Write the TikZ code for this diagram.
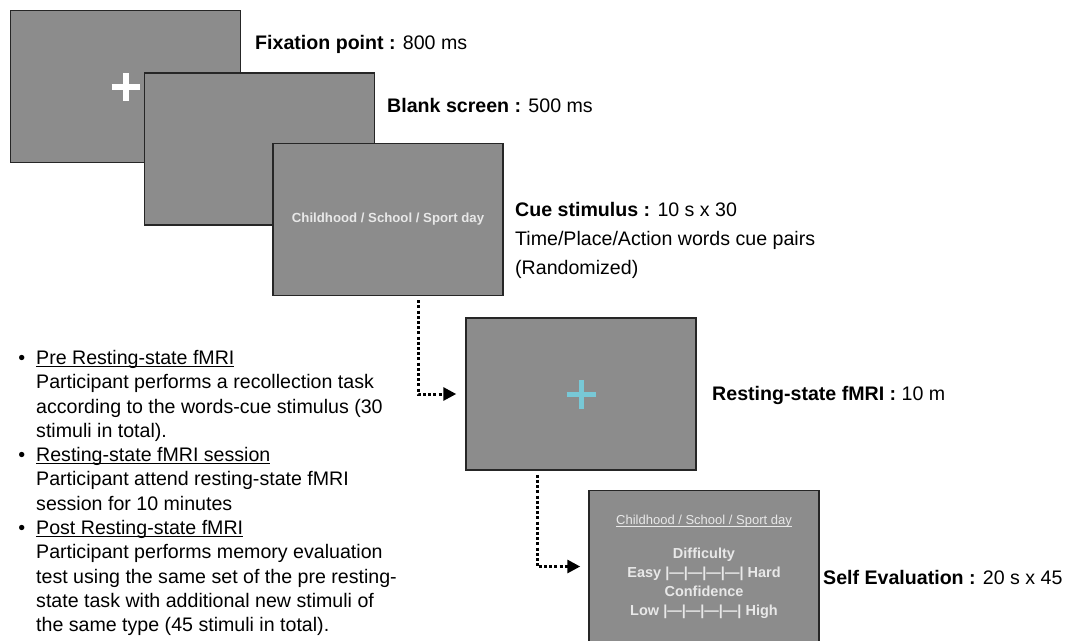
\documentclass[tikz,border=0pt]{standalone}
\usepackage{fontspec}
\setmainfont{Liberation Sans}
\usepackage{xcolor}
\usepackage{tikz}
\usetikzlibrary{arrows.meta}
\definecolor{screengray}{RGB}{140,140,140}
\definecolor{screentext}{RGB}{232,232,232}
\definecolor{crosscyan}{RGB}{120,200,214}
\tikzstyle{screenbox} = [draw=black!85, line width=1.5pt, fill=screengray, minimum width=230pt, minimum height=152pt, inner sep=0pt]
\tikzstyle{timing} = [anchor=west, inner sep=0pt, align=left, font=\fontsize{19.6}{29}\selectfont]
\tikzstyle{dotarrow} = [line width=3pt, dash pattern=on 3pt off 2.2pt, -{Triangle[length=13pt,width=13pt]}]
\newcommand{\itembullet}{\llap{\textbullet\hspace{11pt}}}
\newcommand{\scale}{|\textemdash|\textemdash|\textemdash|\textemdash|}
\newcommand{\underlined}[1]{{\setbox0\hbox{#1}\rlap{\rule[-2.2pt]{\wd0}{0.8pt}}\box0}}

\begin{document}
\begin{tikzpicture}[x=1pt,y=-1pt]
	\clip (0,0) rectangle (1070,640);
	\begin{scope}[font=\bfseries\fontsize{13.2}{16}\selectfont, text=screentext]
		
		% Screens:
		% Stacked one after the other, the later ones on top:
		\node (fix) [screenbox] at (125.5,86.5) {};
		\draw [white, line width=6pt] ([xshift=-14pt]fix.center) -- ([xshift=14pt]fix.center);
		\draw [white, line width=6pt] ([yshift=-14pt]fix.center) -- ([yshift=14pt]fix.center);
		\node (blank) [screenbox] at (259.5,149) {};
		\node (cue) [screenbox] at (388,219.5) {Childhood / School / Sport day};
		
		\node (rest) [screenbox] at (581,394) {};
		\draw [crosscyan, line width=5pt] ([xshift=-14.5pt]rest.center) -- ([xshift=14.5pt]rest.center);
		\draw [crosscyan, line width=5pt] ([yshift=-14.5pt]rest.center) -- ([yshift=14.5pt]rest.center);
		
		\node (selfev) [screenbox, align=center, font=\bfseries\fontsize{14.5}{18.7}\selectfont] at (704,566.5)
			{{\mdseries\fontsize{13}{16}\selectfont\underlined{Childhood / School / Sport day}}\\[16pt]
			Difficulty\\ Easy \scale{} Hard\\ Confidence\\ Low \scale{} High};
		
	\end{scope}
	
	% Dotted connectors:
	\draw [dotarrow, shorten >=9pt] ([xshift=30pt,yshift=-4pt]cue.south) |- (rest.west);
	\draw [dotarrow, shorten >=8pt] ([xshift=-44pt,yshift=-4pt]rest.south) |- (selfev.west);
	
	% Timing labels:
	\node (fixlabel) [timing] at (255,44) {\textbf{Fixation point :} 800 ms};
	\node (blanklabel) [timing] at (387,105) {\textbf{Blank screen :} 500 ms};
	\node (cuelabel) [timing] at (515,240) {\textbf{Cue stimulus :} 10 s x 30\\Time/Place/Action words cue pairs\\(Randomized)};
	\node (restlabel) [timing] at (712,395) {\textbf{Resting-state fMRI :} 10 m};
	\node (evallabel) [timing] at (823,577) {\textbf{Self Evaluation :} 20 s x 45};
	
	% Notes on the left:
	\node (notes) [anchor=north west, inner sep=0pt, align=left, font=\fontsize{19.6}{24.3}\selectfont] at (36,350) {%
		\itembullet\underlined{Pre Resting-state fMRI}\\
		Participant performs a recollection task\\
		according to the words-cue stimulus (30\\
		stimuli in total).\\
		\itembullet\underlined{Resting-state fMRI session}\\
		Participant attend resting-state fMRI\\
		session for 10 minutes\\
		\itembullet\underlined{Post Resting-state fMRI}\\
		Participant performs memory evaluation\\
		test using the same set of the pre resting-\\
		state task with additional new stimuli of\\
		the same type (45 stimuli in total).};
	
\end{tikzpicture}
\end{document}
